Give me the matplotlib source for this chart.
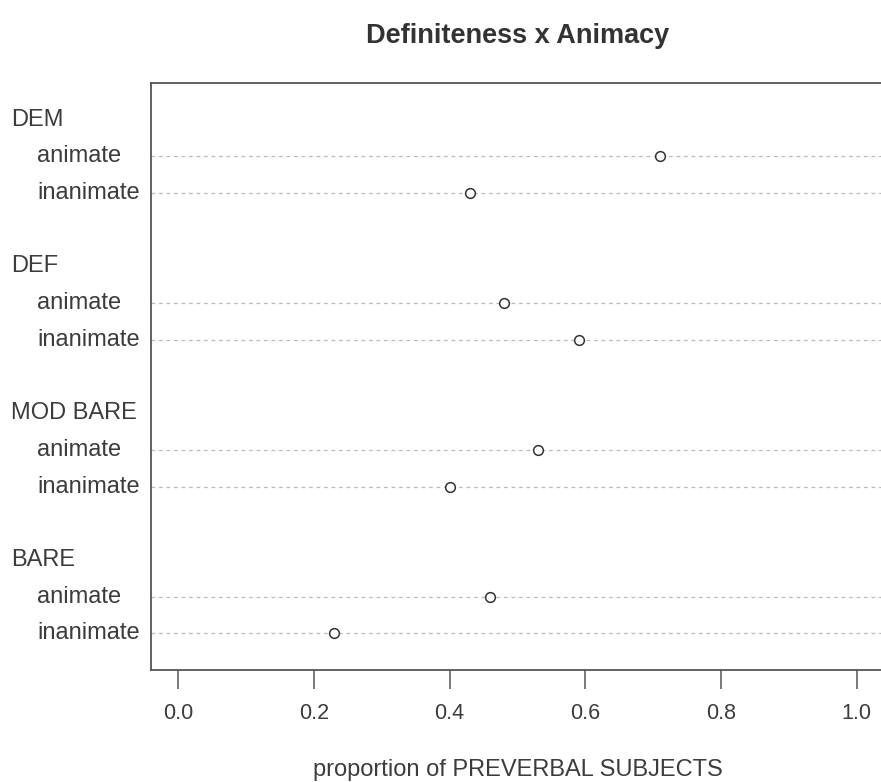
import matplotlib
matplotlib.use("Agg")
import matplotlib.pyplot as plt
from matplotlib.transforms import blended_transform_factory

# data read from the dotchart
groups = ["DEM", "DEF", "MOD BARE", "BARE"]
levels = ["animate", "inanimate"]
animate = [0.71, 0.48, 0.53, 0.46]
inanimate = [0.43, 0.59, 0.40, 0.23]
xticks = [0.0, 0.2, 0.4, 0.6, 0.8, 1.0]

plt.rcParams["font.family"] = ["Liberation Sans", "DejaVu Sans"]
txt_col = "#3c3c3c"

fig = plt.figure(figsize=(8.81, 7.82), dpi=100)
ax = fig.add_axes([151 / 881, 112 / 782, 733 / 881, 587 / 782])

trans = blended_transform_factory(ax.transAxes, ax.transData)
n = len(groups)
for g, name in enumerate(groups):
    base = 4 * (n - 1 - g)
    y_in, y_an, y_head = base + 1, base + 2, base + 3
    for y, val, lab in [(y_an, animate[g], levels[0]), (y_in, inanimate[g], levels[1])]:
        ax.axhline(y, color="#bbbbbb", lw=0.9, ls=(0, (3, 3)), zorder=1)
        ax.plot([val], [y], marker="o", ms=7, mfc="white", mec="#333333",
                mew=1.1, ls="none", zorder=3)
        ax.text(-0.1555, y, lab, transform=trans, ha="left", va="center",
                fontsize=17, color=txt_col, clip_on=False)
    ax.text(-0.191, y_head, name, transform=trans, ha="left", va="center",
            fontsize=17, color=txt_col, clip_on=False)

ax.set_xlim(-0.04, 1.04)
ax.set_ylim(0, 16)
ax.set_yticks([])
ax.set_xticks(xticks)
ax.set_xticklabels([f"{t:.1f}" for t in xticks])
ax.tick_params(axis="x", length=14, width=1.1, color="#555555", pad=10,
               labelsize=15.5, labelcolor=txt_col)
for s in ax.spines.values():
    s.set_color("#555555")
    s.set_linewidth(1.3)

ax.set_title("Definiteness x Animacy", fontsize=19.5, fontweight="bold",
             color="#333333", pad=29)
ax.set_xlabel("proportion of PREVERBAL SUBJECTS", fontsize=17,
              color=txt_col, labelpad=25)

fig.savefig("out.png", dpi=100)
